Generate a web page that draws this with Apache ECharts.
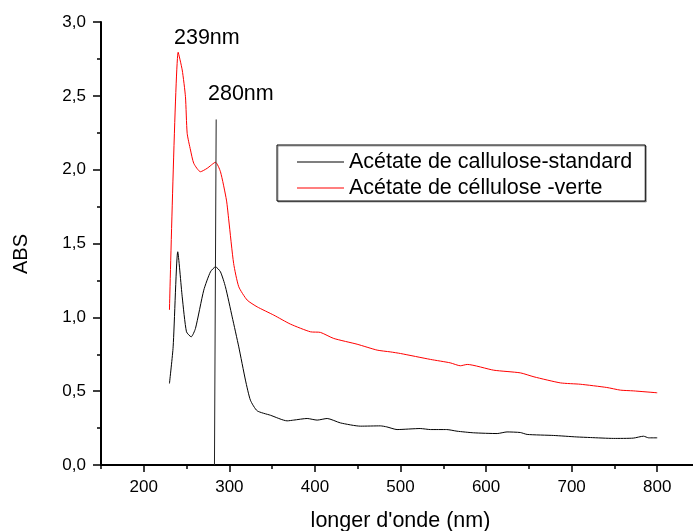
<!DOCTYPE html>
<html>
<head>
<meta charset="utf-8">
<script src="https://cdn.jsdelivr.net/npm/echarts@6/dist/echarts.min.js"></script>
<style>html,body{margin:0;padding:0;background:#fff}#c{width:693px;height:531px}</style>
</head>
<body>
<div id="c"></div>
<script>
var seriesNames = ['Acétate de callulose-standard', 'Acétate de céllulose -verte'];
var xMajorTicks = [200, 300, 400, 500, 600, 700, 800];
var xMinorTicks = [150, 250, 350, 450, 550, 650, 750, 850];
var standardNm = [230, 234.3, 239.7, 244.9, 249.9, 255.4, 260.4, 270.1, 277.9, 283.8, 289.6, 295.4, 303.3, 311, 318.8, 324.6, 332.5, 348, 367.5, 375.2, 390.9, 402.6, 414.3, 429.8, 453.2, 476.5, 484, 496, 523, 535, 554, 566, 585.5, 613, 624.5, 640, 648, 679, 706, 722, 749, 772, 784, 790, 800];
var standardAbs = [0.552, 0.80, 1.444, 1.139, 0.902, 0.868, 0.925, 1.184, 1.308, 1.342, 1.308, 1.207, 1.003, 0.80, 0.575, 0.439, 0.367, 0.337, 0.299, 0.304, 0.315, 0.304, 0.315, 0.285, 0.263, 0.265, 0.258, 0.240, 0.247, 0.240, 0.240, 0.229, 0.218, 0.213, 0.224, 0.220, 0.207, 0.200, 0.190, 0.186, 0.180, 0.182, 0.195, 0.184, 0.184];
var verteNm = [230, 240.2, 244.9, 248.7, 250.7, 254.6, 258.4, 266.2, 274, 283.8, 289.6, 296.6, 299.3, 305, 311, 320.8, 332.5, 351.9, 371.4, 394.7, 406.4, 422, 449.3, 472.7, 488, 500, 535, 558, 570, 578, 609, 640, 656, 687, 710, 741, 757, 772, 800];
var verteAbs = [1.05, 2.795, 2.675, 2.494, 2.246, 2.133, 2.043, 1.986, 2.009, 2.05, 1.986, 1.794, 1.659, 1.365, 1.207, 1.117, 1.071, 1.015, 0.954, 0.902, 0.898, 0.857, 0.818, 0.778, 0.766, 0.755, 0.715, 0.692, 0.672, 0.681, 0.642, 0.624, 0.597, 0.556, 0.547, 0.525, 0.507, 0.502, 0.489];
var markerNm = [284.6, 282.6];
var markerAbs = [2.34, 0];
var peakLabels = ['239nm', '280nm'];

function zip(a, b) { return a.map(function (v, i) { return [v, b[i]]; }); }

var font = '"Liberation Sans", Arial, sans-serif';
var chart = echarts.init(document.getElementById('c'), null, { renderer: 'canvas' });
chart.setOption({
  animation: false,
  backgroundColor: '#fff',
  grid: { left: 101, top: 22, right: -7, bottom: 66, containLabel: false, outerBoundsMode: 'none' },
  legend: {
    orient: 'vertical',
    left: 277, top: 145,
    data: seriesNames,
    icon: 'rect',
    itemWidth: 47, itemHeight: 1, itemGap: 4,
    padding: [6, 13, 2, 20],
    borderColor: '#000', borderWidth: 1,
    backgroundColor: '#fff',
    shadowColor: 'rgba(0,0,0,0.35)', shadowBlur: 0, shadowOffsetX: 1, shadowOffsetY: 1,
    textStyle: { fontFamily: font, fontSize: 21.5, color: '#000', lineHeight: 22 }
  },
  xAxis: [{
    type: 'value', min: 150, max: 850,
    name: "longer d'onde (nm)", nameLocation: 'middle', nameGap: 45,
    nameTextStyle: { fontFamily: font, fontSize: 21.5, color: '#000' },
    axisLine: { show: true, onZero: false, lineStyle: { color: '#000', width: 2 } },
    axisTick: { show: true, customValues: xMajorTicks, length: 7, lineStyle: { color: '#000', width: 1.5 } },
    axisLabel: { customValues: xMajorTicks, margin: 14, fontFamily: font, fontSize: 17, color: '#000' },
    splitLine: { show: false }
  }, {
    type: 'value', min: 150, max: 850, position: 'bottom',
    axisLine: { show: false },
    axisTick: { show: true, customValues: xMinorTicks, length: 4, lineStyle: { color: '#000', width: 1.5 } },
    axisLabel: { show: false },
    splitLine: { show: false }
  }],
  yAxis: {
    type: 'value', min: 0, max: 3, interval: 0.5,
    axisLine: { show: true, lineStyle: { color: '#000', width: 2 } },
    axisTick: { show: true, length: 8, lineStyle: { color: '#000', width: 1.5 } },
    minorTick: { show: true, splitNumber: 2, length: 4, lineStyle: { color: '#000', width: 1.5 } },
    axisLabel: { margin: 15, fontFamily: font, fontSize: 17, color: '#000',
      formatter: function (v) { return v.toFixed(1).replace('.', ','); } },
    splitLine: { show: false }
  },
  series: [{
    name: seriesNames[0], type: 'line', symbol: 'none', smooth: 0.2,
    data: zip(standardNm, standardAbs),
    lineStyle: { color: '#000', width: 1 }, itemStyle: { color: '#000' }
  }, {
    name: seriesNames[1], type: 'line', symbol: 'none', smooth: 0.2,
    data: zip(verteNm, verteAbs),
    lineStyle: { color: '#ff0000', width: 1 }, itemStyle: { color: '#ff0000' }
  }, {
    name: 'marker', type: 'line', symbol: 'none',
    data: zip(markerNm, markerAbs),
    lineStyle: { color: '#222', width: 1 }, itemStyle: { color: '#222' }
  }],
  graphic: [
    { type: 'text', left: 174, top: 27, style: { text: peakLabels[0], font: '21.5px ' + font, fill: '#000' } },
    { type: 'text', left: 208, top: 83, style: { text: peakLabels[1], font: '21.5px ' + font, fill: '#000' } },
    { type: 'text', x: 21, y: 254, rotation: Math.PI / 2,
      style: { text: 'ABS', font: '20px ' + font, fill: '#000', align: 'center', verticalAlign: 'middle' } }
  ]
});
</script>
</body>
</html>
